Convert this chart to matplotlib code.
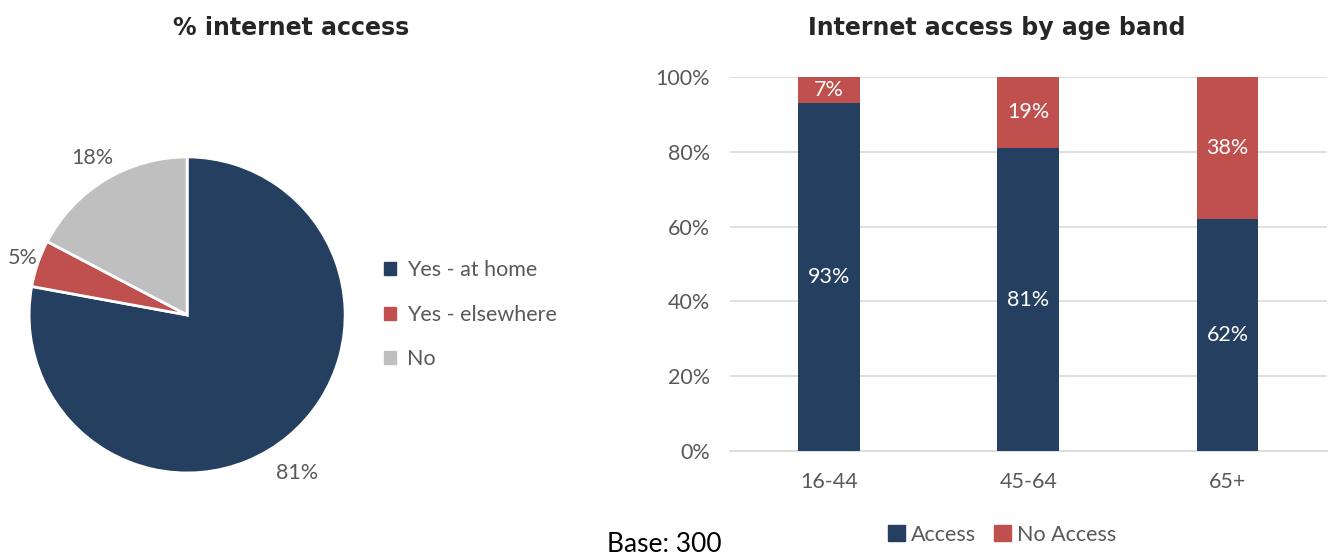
import numpy as np
import matplotlib.pyplot as plt
from matplotlib.patches import Patch

# pie data
pie_labels = ['Yes - at home', 'Yes - elsewhere', 'No']
pie_values = [81, 5, 18]

# stacked bar data
age_bands = ['16-44', '45-64', '65+']
access = [93, 81, 62]
no_access = [7, 19, 38]

navy = '#243F60'
red = '#C0504D'
grey = '#BFBFBF'
txt = '#595959'
fs = 15.5

plt.rcParams['font.family'] = ['Lato', 'DejaVu Sans']

fig = plt.figure(figsize=(13.29, 5.57), dpi=100)

# ---- pie ----
ax1 = fig.add_axes([0.0005, 0.0998, 0.2806, 0.6695])
wedges, _ = ax1.pie(pie_values, colors=[navy, red, grey], startangle=90,
                    counterclock=False,
                    wedgeprops=dict(edgecolor='white', linewidth=2))
# outside-end labels, centred near each slice's mid angle
for w, v, d, shift in zip(wedges, pie_values, [1.22, 1.1, 1.16], [-5, 0, 0]):
    mid = np.deg2rad((w.theta1 + w.theta2) / 2 + shift)
    ax1.text(d * np.cos(mid), d * np.sin(mid), f'{v}%', ha='center',
             va='center', color=txt, fontsize=fs)
ax1.set_xlim(-1.18, 1.18)
ax1.set_ylim(-1.18, 1.18)
ax1.set_aspect('equal')
fig.text(0.219, 0.95, '% internet access', ha='center', va='center',
         fontsize=17, fontweight='bold', family='DejaVu Sans', color='#262626')

handles = [Patch(color=c) for c in [navy, red, grey]]
fig.legend(handles, pie_labels, loc='center left', bbox_to_anchor=(0.2745, 0.435),
           frameon=False, fontsize=fs, labelcolor=txt, handlelength=0.55,
           handleheight=0.55, handletextpad=0.5, labelspacing=1.15)

# ---- stacked bars ----
ax2 = fig.add_axes([0.549, 0.190, 0.4495, 0.672])
x = range(len(age_bands))
b1 = ax2.bar(x, access, width=0.31, color=navy, zorder=3)
b2 = ax2.bar(x, no_access, width=0.31, bottom=access, color=red, zorder=3)
for bars, vals, bottoms in [(b1, access, [0] * 3), (b2, no_access, access)]:
    for rect, v, b in zip(bars, vals, bottoms):
        ax2.text(rect.get_x() + rect.get_width() / 2, b + v / 2, f'{v}%',
                 ha='center', va='center', color='white', fontsize=fs, zorder=4)

ax2.set_xlim(-0.5, 2.5)
ax2.set_ylim(0, 100)
ax2.set_yticks(range(0, 101, 20))
ax2.set_yticklabels([f'{t}%' for t in range(0, 101, 20)])
ax2.set_xticks(list(x))
ax2.set_xticklabels(age_bands)
ax2.grid(axis='y', color='#D9D9D9', linewidth=1.2, zorder=0)
for s in ['top', 'right', 'left']:
    ax2.spines[s].set_visible(False)
ax2.spines['bottom'].set_color('#D9D9D9')
ax2.spines['bottom'].set_linewidth(1.2)
ax2.tick_params(length=0, colors=txt, labelsize=fs)
ax2.tick_params(axis='x', pad=15)
ax2.tick_params(axis='y', pad=14)

fig.text(0.750, 0.95, 'Internet access by age band', ha='center', va='center',
         fontsize=17, fontweight='bold', family='DejaVu Sans', color='#262626')

fig.legend([Patch(color=navy), Patch(color=red)], ['Access', 'No Access'],
           loc='center', bbox_to_anchor=(0.754, 0.04), ncol=2, frameon=False,
           fontsize=fs, labelcolor=txt, handlelength=0.8, handleheight=0.8,
           handletextpad=0.3, columnspacing=0.8)

fig.text(0.457, 0.022, 'Base: 300', ha='left', va='center', fontsize=19,
         color='black')

fig.savefig('out.png', dpi=100)
